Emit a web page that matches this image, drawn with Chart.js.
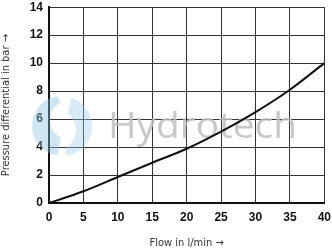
<!DOCTYPE html>
<html><head><meta charset="utf-8">
<script src="https://cdn.jsdelivr.net/npm/chart.js@4"></script>
<style>html,body{margin:0;padding:0;background:#fff;overflow:hidden}#c{display:block;margin-top:-6px}</style>
</head><body>
<canvas id="c" width="338" height="258"></canvas>
<script>
const flow = [0, 5, 10, 15, 20, 25, 30, 35, 40];
const pressure = [0, 0.84, 1.86, 2.88, 3.88, 5.1, 6.5, 8.1, 10];
const xTitle = 'Flow in l/min →';
const yTitle = 'Pressure differential in bar →';
const watermark = 'Hydrotech';

const wm = {
  id: 'wm',
  beforeDatasetsDraw(chart) {
    const ctx = chart.ctx;
    ctx.save();
    ctx.translate(0, 6);
    // logo swirl
    ctx.fillStyle = 'rgba(140,196,226,0.42)';
    ctx.beginPath();
    ctx.arc(62, 126, 30, Math.PI * 0.55, Math.PI * 1.45);
    ctx.arc(70, 120, 20, Math.PI * 1.35, Math.PI * 0.65, true);
    ctx.closePath();
    ctx.fill();
    ctx.fillStyle = 'rgba(150,205,232,0.38)';
    ctx.beginPath();
    ctx.arc(62, 126, 30, Math.PI * 1.6, Math.PI * 0.45);
    ctx.arc(56, 130, 20, Math.PI * 0.35, Math.PI * 1.7, true);
    ctx.closePath();
    ctx.fill();
    // text
    ctx.fillStyle = 'rgba(190,190,190,0.85)';
    ctx.font = '400 36px "Open Sans", "DejaVu Sans"';
    ctx.textBaseline = 'alphabetic';
    const w = ctx.measureText(watermark).width;
    ctx.translate(108, 138);
    ctx.scale(189 / w, 1);
    ctx.fillText(watermark, 0, 0);
    ctx.restore();
  }
};

new Chart(document.getElementById('c'), {
  type: 'line',
  data: {
    datasets: [{
      data: flow.map((x, i) => ({x, y: pressure[i]})),
      borderColor: '#111',
      borderWidth: 2,
      pointRadius: 0,
      cubicInterpolationMode: 'monotone',
      fill: false
    }]
  },
  options: {
    responsive: false,
    animation: false,
    layout: {padding: {left: 0, right: 0, top: 0, bottom: 0}},
    plugins: {legend: {display: false}, tooltip: {enabled: false}},
    scales: {
      x: {
        type: 'linear', min: 0, max: 40,
        afterFit(s) { s.height = 49; },
        ticks: {stepSize: 5, color: '#111', padding: 7, font: {family: '"Liberation Sans", Arial', size: 12, weight: 'bold'}},
        grid: {color: '#333', lineWidth: 1, drawTicks: false},
        border: {color: '#111', width: 2},
        title: {display: true, text: xTitle, color: '#333', padding: {top: 14, bottom: 2}, font: {family: '"Liberation Sans Narrow", "DejaVu Sans Condensed", sans-serif', size: 11}}
      },
      y: {
        min: 0, max: 14,
        afterFit(s) { s.width = 49; },
        ticks: {stepSize: 2, color: '#111', padding: 6, font: {family: '"Liberation Sans", Arial', size: 12, weight: 'bold'}},
        grid: {color: '#333', lineWidth: 1, drawTicks: false},
        border: {color: '#111', width: 2},
        title: {display: true, text: yTitle, color: '#333', padding: {top: 0, bottom: 12}, font: {family: '"Liberation Sans Narrow", "DejaVu Sans Condensed", sans-serif', size: 11}}
      }
    }
  },
  plugins: [wm]
});
</script>
</body></html>
